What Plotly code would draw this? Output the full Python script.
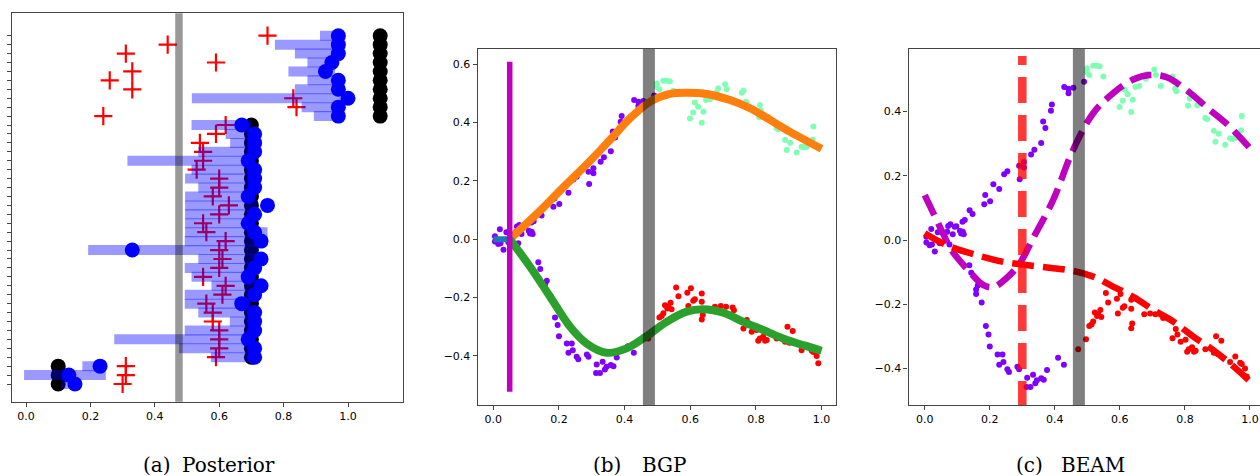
import plotly.graph_objects as go

# ---------------- Panel (a) Posterior : rows listed top -> bottom ----------------
row_true = [1.10]*10 + [0.70]*27 + [0.10]*3
row_est = [0.97, 0.97, 0.97, 0.95, 0.93, 0.97, 0.97, 1.00, 0.97, 0.97,
           0.67, 0.71, 0.71, 0.71, 0.69, 0.71, 0.71, 0.71, 0.69, 0.75,
           0.71, 0.69, 0.71, 0.73, 0.33, 0.73, 0.71, 0.69, 0.73, 0.71,
           0.67, 0.71, 0.71, 0.71, 0.69, 0.71, 0.71,
           0.23, 0.133, 0.152]
row_obs = [0.75, 0.44, 0.31, 0.59, 0.33, 0.26, 0.33, 0.83, 0.84, 0.24,
           0.62, 0.59, 0.54, 0.55, 0.55, 0.53, 0.60, 0.60, 0.58, 0.63,
           0.60, 0.55, 0.56, 0.62, 0.60, 0.61, 0.60, 0.55, 0.62, 0.61,
           0.56, 0.58, 0.58, 0.60, 0.60, 0.60, 0.59,
           0.31, 0.31, 0.30]
row_lo = [0.913, 0.773, 0.835, 0.874, 0.815, 0.874, 0.835, 0.515, 0.856, 0.894,
          0.514, 0.620, 0.634, 0.535, 0.315, 0.514, 0.494, 0.535, 0.494, 0.494,
          0.494, 0.494, 0.494, 0.493, 0.193, 0.535, 0.493, 0.514, 0.576, 0.493,
          0.493, 0.535, 0.633, 0.493, 0.274, 0.475, 0.574,
          0.175, -0.006, 0.110]
row_hi = [0.97, 0.97, 0.97, 0.96, 0.96, 0.97, 0.98, 0.98, 0.97, 0.96,
          0.70, 0.71, 0.71, 0.71, 0.71, 0.71, 0.71, 0.72, 0.71, 0.72,
          0.71, 0.71, 0.75, 0.75, 0.72, 0.72, 0.72, 0.71, 0.72, 0.71,
          0.70, 0.71, 0.71, 0.71, 0.71, 0.71, 0.71,
          0.23, 0.248, 0.160]
a_split = 0.475

# ---------------- Panels (b) and (c): shared observations ----------------
purple_x = [0.005, 0.005, 0.015, 0.020, 0.022, 0.031, 0.040, 0.046, 0.069, 0.072, 0.076, 0.079,
            0.086, 0.092, 0.097, 0.108, 0.112, 0.117, 0.120, 0.116, 0.123, 0.138, 0.147,
            0.183, 0.186, 0.201, 0.211, 0.229, 0.244, 0.254, 0.290, 0.292, 0.305, 0.305,
            0.327, 0.337, 0.358, 0.364, 0.371, 0.388, 0.391, 0.429, 0.442, 0.442, 0.457, 0.490,
            0.137, 0.143, 0.163, 0.158, 0.158, 0.175, 0.188, 0.196, 0.200, 0.224, 0.239, 0.242,
            0.229, 0.254, 0.259, 0.285, 0.290, 0.315, 0.333, 0.345, 0.358, 0.366, 0.340, 0.325,
            0.313, 0.376, 0.410, 0.428]
purple_y = [0.010, -0.008, -0.016, 0.034, -0.014, -0.036, 0.024, -0.010, 0.026, 0.044, -0.014, 0.049,
            0.018, 0.041, 0.043, 0.029, 0.020, 0.026, 0.018, 0.057, 0.062, 0.093, 0.081,
            0.111, 0.140, 0.121, 0.174, 0.159, 0.205, 0.214, 0.231, 0.189, 0.243, 0.226,
            0.266, 0.281, 0.302, 0.369, 0.349, 0.403, 0.422, 0.477, 0.457, 0.471, 0.474, 0.493,
            -0.079, -0.102, -0.142, -0.154, -0.168, -0.195, -0.268, -0.294, -0.332, -0.357, -0.357, -0.380,
            -0.389, -0.403, -0.411, -0.395, -0.403, -0.429, -0.420, -0.437, -0.431, -0.435, -0.446, -0.458,
            -0.458, -0.405, -0.367, -0.389]
green_x = [0.498, 0.498, 0.506, 0.518, 0.528, 0.538, 0.549, 0.599, 0.609, 0.614, 0.624, 0.635,
           0.640, 0.648, 0.660, 0.680, 0.685, 0.706, 0.711, 0.726, 0.757, 0.762, 0.770, 0.774,
           0.812, 0.815, 0.810, 0.838, 0.863, 0.868, 0.889, 0.894, 0.904, 0.924, 0.939, 0.946,
           0.955, 0.973, 0.975, 0.956]
green_y = [0.534, 0.523, 0.514, 0.543, 0.543, 0.541, 0.509, 0.414, 0.434, 0.469, 0.454, 0.399,
           0.437, 0.477, 0.480, 0.502, 0.517, 0.531, 0.514, 0.480, 0.502, 0.509, 0.471, 0.463,
           0.460, 0.441, 0.418, 0.420, 0.380, 0.377, 0.340, 0.306, 0.331, 0.297, 0.317, 0.315,
           0.317, 0.342, 0.386, 0.326]
red_x = [0.472, 0.496, 0.506, 0.513, 0.518, 0.523, 0.530, 0.533, 0.540, 0.543, 0.557, 0.564,
         0.591, 0.594, 0.602, 0.609, 0.614, 0.635, 0.635, 0.635, 0.638, 0.675, 0.693, 0.709,
         0.729, 0.733, 0.762, 0.772, 0.777, 0.787, 0.802, 0.807, 0.812, 0.822, 0.828, 0.833,
         0.863, 0.889, 0.896, 0.912, 0.902, 0.939, 0.955, 0.970, 0.985, 0.990, 0.975]
red_y = [-0.340, -0.309, -0.268, -0.263, -0.254, -0.226, -0.237, -0.231, -0.218, -0.240, -0.165, -0.195,
         -0.183, -0.229, -0.168, -0.211, -0.206, -0.186, -0.214, -0.275, -0.260, -0.231, -0.229, -0.231,
         -0.234, -0.243, -0.306, -0.277, -0.294, -0.317, -0.311, -0.348, -0.340, -0.334, -0.348, -0.345,
         -0.340, -0.351, -0.300, -0.314, -0.355, -0.380, -0.363, -0.382, -0.400, -0.425, -0.386]

# (b) BGP fitted branches
bgp_root_x = [0.0, 0.05]
bgp_root_y = [0.0, 0.0]
bgp_up_x = [0.05, 0.142, 0.213, 0.284, 0.355, 0.416, 0.477, 0.538, 0.589, 0.650, 0.721, 0.782, 0.843, 0.904, 1.0]
bgp_up_y = [0.0, 0.097, 0.178, 0.256, 0.340, 0.414, 0.471, 0.498, 0.502, 0.498, 0.477, 0.449, 0.409, 0.368, 0.310]
bgp_dn_x = [0.05, 0.112, 0.173, 0.234, 0.284, 0.345, 0.406, 0.467, 0.528, 0.589, 0.640, 0.701, 0.762, 0.822, 0.883, 0.944, 1.0]
bgp_dn_y = [0.0, -0.094, -0.197, -0.300, -0.357, -0.389, -0.374, -0.332, -0.283, -0.248, -0.240, -0.252, -0.283, -0.311, -0.340, -0.363, -0.382]
bgp_branch_pt = 0.05
bgp_branch_span = [-0.523, 0.608]
true_branch_pt = 0.474

# (c) BEAM fitted branches
beam_a_x = [0.0, 0.056, 0.082, 0.138, 0.179, 0.210, 0.251, 0.292, 0.333, 0.395, 0.456, 0.518, 0.579, 0.641, 0.692, 0.744, 0.805, 0.877, 0.938, 1.0]
beam_a_y = [0.140, 0.021, -0.031, -0.099, -0.140, -0.147, -0.119, -0.073, 0.005, 0.125, 0.280, 0.395, 0.457, 0.500, 0.514, 0.507, 0.467, 0.405, 0.353, 0.286]
beam_b_x = [0.0, 0.067, 0.159, 0.241, 0.313, 0.395, 0.456, 0.518, 0.579, 0.641, 0.703, 0.764, 0.826, 0.887, 0.938, 1.0]
beam_b_y = [0.021, -0.016, -0.047, -0.068, -0.078, -0.088, -0.096, -0.114, -0.145, -0.177, -0.218, -0.254, -0.301, -0.343, -0.384, -0.440]
beam_branch_pt = 0.30
beam_branch_span = [-0.52, 0.573]

captions = [("(a)", "Posterior"), ("(b)", "BGP"), ("(c)", "BEAM")]

# ---------------- figure ----------------
W, H = 1260, 476
def xd(a, b):
    return [a / W, b / W]
def yd(top, bottom):
    return [1 - bottom / H, 1 - top / H]

fig = go.Figure()
n = len(row_est)
rows = [n - 1 - i for i in range(n)]
half = 0.56  # half bar thickness in row units

fig.add_trace(go.Scatter(x=row_true, y=rows, mode="markers", xaxis="x", yaxis="y", hoverinfo="skip",
                         marker=dict(color="black", size=15, line=dict(width=0))))
fig.add_trace(go.Scatter(x=row_obs, y=rows, mode="markers", xaxis="x", yaxis="y", hoverinfo="skip",
                         marker=dict(symbol="cross-thin", size=13, color="red",
                                     line=dict(color="red", width=2.2))))
for r, lo, hi in zip(rows, row_lo, row_hi):
    fig.add_trace(go.Scatter(x=[lo, hi, hi, lo, lo], y=[r - half, r - half, r + half, r + half, r - half],
                             mode="lines", fill="toself", fillcolor="rgba(0,0,255,0.4)",
                             line=dict(width=0), xaxis="x", yaxis="y", hoverinfo="skip"))
fig.add_trace(go.Scatter(x=row_est, y=rows, mode="markers", xaxis="x", yaxis="y", hoverinfo="skip",
                         marker=dict(color="#0000ff", size=15, line=dict(width=0))))

for ax in ("2", "3"):
    for xs, ys, col in ((purple_x, purple_y, "#8000ff"), (green_x, green_y, "#80ffb4"),
                        (red_x, red_y, "#ff0000")):
        fig.add_trace(go.Scatter(x=xs, y=ys, mode="markers", xaxis="x" + ax, yaxis="y" + ax,
                                 marker=dict(color=col, size=6, line=dict(width=0))))

# (b) lines
fig.add_trace(go.Scatter(x=bgp_root_x, y=bgp_root_y, mode="lines", xaxis="x2", yaxis="y2",
                         line=dict(color="#1f77b4", width=6)))
fig.add_trace(go.Scatter(x=bgp_up_x, y=bgp_up_y, mode="lines", xaxis="x2", yaxis="y2",
                         line=dict(color="#ff7f0e", width=8, shape="spline")))
fig.add_trace(go.Scatter(x=bgp_dn_x, y=bgp_dn_y, mode="lines", xaxis="x2", yaxis="y2",
                         line=dict(color="#2ca02c", width=8, shape="spline")))
fig.add_trace(go.Scatter(x=[bgp_branch_pt, bgp_branch_pt], y=bgp_branch_span, mode="lines",
                         xaxis="x2", yaxis="y2", line=dict(color="#bf00bf", width=5.5)))

# (c) lines
fig.add_trace(go.Scatter(x=beam_a_x, y=beam_a_y, mode="lines", xaxis="x3", yaxis="y3",
                         line=dict(color="#bf00bf", width=6.5, shape="spline", dash="22px,9px")))
fig.add_trace(go.Scatter(x=beam_b_x, y=beam_b_y, mode="lines", xaxis="x3", yaxis="y3",
                         line=dict(color="#ff0000", width=6.5, shape="spline", dash="22px,9px")))
fig.add_trace(go.Scatter(x=[beam_branch_pt, beam_branch_pt], y=beam_branch_span, mode="lines",
                         xaxis="x3", yaxis="y3",
                         line=dict(color="rgba(255,0,0,0.78)", width=8.5, dash="26px,12px")))

shapes = [
    dict(type="line", xref="x", yref="y domain", x0=a_split, x1=a_split, y0=0, y1=1,
         line=dict(color="rgba(0,0,0,0.4)", width=7.5), layer="above"),
    dict(type="line", xref="x2", yref="y2 domain", x0=true_branch_pt, x1=true_branch_pt, y0=0, y1=1,
         line=dict(color="rgba(0,0,0,0.5)", width=12), layer="above"),
    dict(type="line", xref="x3", yref="y3 domain", x0=true_branch_pt, x1=true_branch_pt, y0=0, y1=1,
         line=dict(color="rgba(0,0,0,0.5)", width=12), layer="above"),
]

spine = dict(showline=True, linecolor="#444", linewidth=1.3, ticks="outside", ticklen=4,
             tickwidth=1, tickcolor="#444", showgrid=False, zeroline=False,
             tickfont=dict(family="DejaVu Sans", size=11, color="black"))
xt = dict(tickvals=[0, 0.2, 0.4, 0.6, 0.8, 1.0], tickformat=".1f")

fig.update_layout(
    width=W, height=H, margin=dict(l=0, r=0, t=0, b=0),
    paper_bgcolor="white", plot_bgcolor="white", showlegend=False,
    xaxis=dict(domain=xd(12, 403.3), anchor="y", range=[-0.0435, 1.1717], mirror=True, **xt, **spine),
    yaxis=dict(domain=yd(13.3, 401.7), anchor="x", range=[-1.98, 41.51], mirror=True,
               tickvals=list(range(n)), showticklabels=False, **spine),
    xaxis2=dict(domain=xd(477.7, 835.7), anchor="y2", range=[-0.0475, 1.043], mirror=True, **xt, **spine),
    yaxis2=dict(domain=yd(49, 405), anchor="x2", range=[-0.568, 0.652], mirror=True,
                tickvals=[-0.4, -0.2, 0.0, 0.2, 0.4, 0.6], tickformat=".1f", **spine),
    xaxis3=dict(domain=xd(908.5, 1260), anchor="y3", range=[-0.050, 1.031], mirror=True, **xt, **spine),
    yaxis3=dict(domain=yd(49, 405), anchor="x3", range=[-0.514, 0.595],
                tickvals=[-0.4, -0.2, 0.0, 0.2, 0.4], tickformat=".1f", **spine),
    shapes=shapes,
)

cap_pos = [(140.6, 277.0), (590.6, 688.7), (1014.0, 1126.6)]
anns = []
for (lab, name), (l, r) in zip(captions, cap_pos):
    anns.append(dict(text=lab, x=l / W, xanchor="left", y=1 - 465 / H, yanchor="middle",
                     xref="paper", yref="paper", showarrow=False,
                     font=dict(family="DejaVu Serif", size=20, color="black")))
    anns.append(dict(text=name, x=r / W, xanchor="right", y=1 - 465 / H, yanchor="middle",
                     xref="paper", yref="paper", showarrow=False,
                     font=dict(family="DejaVu Serif", size=20, color="black")))
fig.update_layout(annotations=anns)

fig.write_html("out.html", config={"displayModeBar": False},
               post_script="document.body.style.margin='0';document.body.style.overflow='hidden';")
